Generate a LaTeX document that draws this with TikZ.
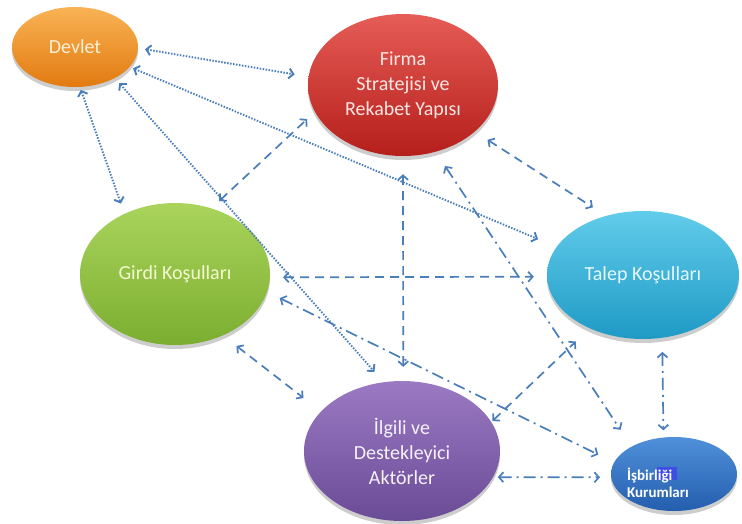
\documentclass[tikz,border=0pt]{standalone}
\usepackage{fontspec}
\setmainfont{Carlito}
\usetikzlibrary{arrows.meta,shapes.geometric,shadows}
\definecolor{lineblue}{HTML}{4A7EBB}
\definecolor{devtop}{HTML}{F9B355}
\definecolor{devbot}{HTML}{E27A10}
\definecolor{devtext}{HTML}{FFF0D6}
\definecolor{firtop}{HTML}{E65C56}
\definecolor{firbot}{HTML}{B51F1B}
\definecolor{firtext}{HTML}{FFE6E4}
\definecolor{girtop}{HTML}{AAD45C}
\definecolor{girbot}{HTML}{7BAE30}
\definecolor{girtext}{HTML}{F4F9CF}
\definecolor{taltop}{HTML}{62CCEB}
\definecolor{talbot}{HTML}{1E9AC5}
\definecolor{taltext}{HTML}{E6F7FC}
\definecolor{ilgtop}{HTML}{9B7AC3}
\definecolor{ilgbot}{HTML}{6A4B96}
\definecolor{ilgtext}{HTML}{F6F2FB}
\definecolor{isbtop}{HTML}{5090DA}
\definecolor{isbbot}{HTML}{245EAE}
\definecolor{hilite}{HTML}{3D4DE6}
\begin{document}
\begin{tikzpicture}[x=1pt,y=-1pt,
  every node/.style={inner sep=0pt},
  ell/.style={ellipse, draw=none,
    drop shadow={opacity=0.28, shadow xshift=0pt, shadow yshift=-4pt, fill=black!70}},
  lab/.style={font=\fontsize{20}{25}\selectfont, align=center},
  conn/.style={draw=lineblue, line width=1.7pt,
    {Straight Barb[length=4.5pt,width=10pt]}-{Straight Barb[length=4.5pt,width=10pt]}},
  dotl/.style={conn, line width=1.9pt, dash pattern=on 1.5pt off 1.5pt},
  dashl/.style={conn, dash pattern=on 9pt off 6pt},
  ddl/.style={conn, dash pattern=on 12pt off 5pt on 2pt off 5pt},
]
\fill[white] (0,0) rectangle (742,523);
\useasboundingbox (0,0) rectangle (742,523);

\node[ell, lab, minimum width=126pt, minimum height=80pt, top color=devtop, bottom color=devbot, text=devtext] (devlet) at (75,47) {Devlet};
\node[ell, lab, minimum width=190pt, minimum height=142pt, top color=firtop, bottom color=firbot, text=firtext] (firma) at (403,85) {Firma\\Stratejisi ve\\Rekabet Yapısı};
\node[ell, lab, minimum width=190pt, minimum height=142pt, top color=girtop, bottom color=girbot, text=girtext] (girdi) at (175,274) {Girdi Koşulları};
\node[ell, lab, minimum width=192pt, minimum height=128pt, top color=taltop, bottom color=talbot, text=taltext] (talep) at (643,275) {Talep Koşulları};
\node[ell, lab, minimum width=196pt, minimum height=140pt, top color=ilgtop, bottom color=ilgbot, text=ilgtext] (ilgili) at (402,451) {İlgili ve\\Destekleyici\\Aktörler};
\node[ell, minimum width=126pt, minimum height=74pt, top color=isbtop, bottom color=isbbot,
  path picture={\fill[hilite] ([shift={(-17pt,-6pt)}]path picture bounding box.center) rectangle ([shift={(3pt,7pt)}]path picture bounding box.center);},
  label={[xshift=-16pt,yshift=-9pt,text=white,font=\fontsize{15}{17.5}\selectfont\bfseries,align=left]center:İşbirliği\\Kurumları}] (isbir) at (674,474) {};

\draw[dotl, shorten <=7pt, shorten >=14pt] (devlet.-1) -- (firma.175);
\draw[dotl, shorten <=3.5pt, shorten >=20pt] (devlet.-20) -- (talep.162);
\draw[dotl, shorten <=6.5pt, shorten >=13.7pt] (devlet.-38) -- (ilgili.105);
\draw[dotl, shorten <=3pt, shorten >=10.7pt] (devlet.-83) -- (girdi.130.5);
\draw[dashl, shorten <=10.6pt, shorten >=10.5pt] (girdi.61) -- (firma.197);
\draw[dashl, shorten <=15pt, shorten >=15.6pt] (firma.-33) -- (talep.122.6);
\draw[dashl, shorten <=18pt, shorten >=14pt] (firma.-90) -- (ilgili.89);
\draw[ddl, shorten <=17pt, shorten >=20pt] (firma.-64) -- (isbir.147.7);
\draw[dashl, shorten <=13pt, shorten >=13pt] (girdi.-2) -- (talep.181.6);
\draw[ddl, shorten <=14pt, shorten >=17.5pt] (girdi.-11.8) -- (isbir.169);
\draw[dashl, shorten <=17pt, shorten >=22pt] (girdi.-52.3) -- (ilgili.154.8);
\draw[dashl, shorten <=1.5pt, shorten >=19pt] (ilgili.18.4) -- (talep.225.9);
\draw[ddl, shorten <=4.6pt, shorten >=11pt] (ilgili.-16.4) -- (isbir.183);
\draw[ddl, shorten <=14pt, shorten >=7pt] (talep.-73.2) -- (isbir.106.8);
\end{tikzpicture}
\end{document}
